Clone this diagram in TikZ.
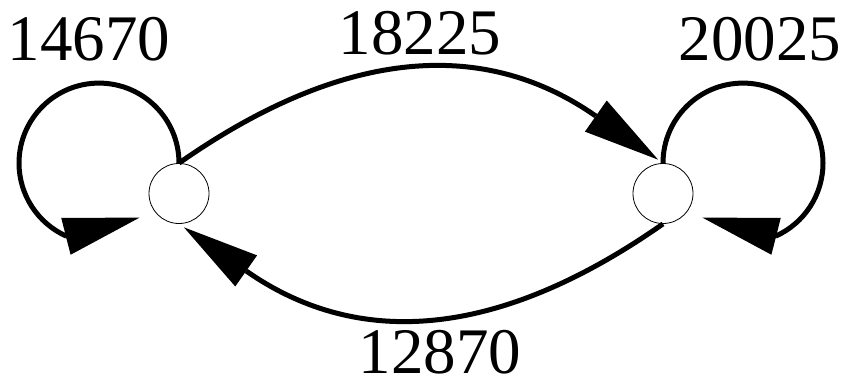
\documentclass[tikz,border=0pt]{standalone}
\usepackage{fontspec}
\setmainfont{Liberation Serif}
\usetikzlibrary{arrows.meta}

\begin{document}
\begin{tikzpicture}[x=1pt, y=1pt,
    statenode/.style={draw, circle, line width=0.8pt, minimum size=60pt, inner sep=0pt},
    flow/.style={line width=5pt, -{Triangle[length=76pt, width=38pt, line width=0pt]}},
    weight/.style={inner sep=0pt, font=\fontsize{65}{78}\selectfont}]
    % Fixed canvas, same proportions as the original
    \useasboundingbox (0, 0) rectangle (846, 381);

    % ----------------------------------------------------
    % States
    % ----------------------------------------------------
    \node[statenode] (L) at (179, 187.5) {};
    \node[statenode] (R) at (663, 187.5) {};

    % ----------------------------------------------------
    % Self loops (round arc, then a straight run into the tip)
    % ----------------------------------------------------
    \draw[flow, shorten >=17pt] (L.north) arc[start angle=0, end angle=246, radius=80pt] -- (L.221);
    \draw[flow, shorten >=17pt] (R.north) arc[start angle=180, end angle=-66, radius=80pt] -- (R.319);

    % ----------------------------------------------------
    % Transitions between the two states
    % ----------------------------------------------------
    \draw[flow, shorten >=6pt] (L.north) .. controls +(35:211pt) and +(145:211pt) .. (R.north);
    \draw[flow, shorten >=6pt] (R.south) .. controls +(215:211pt) and +(-35:211pt) .. (L.south);

    % Counts
    \node[weight] (wLL) at (89, 341.5) {14670};
    \node[weight] (wLR) at (420, 347.5) {18225};
    \node[weight] (wRR) at (760, 341.5) {20025};
    \node[weight] (wRL) at (440, 28.5) {12870};

\end{tikzpicture}
\end{document}
